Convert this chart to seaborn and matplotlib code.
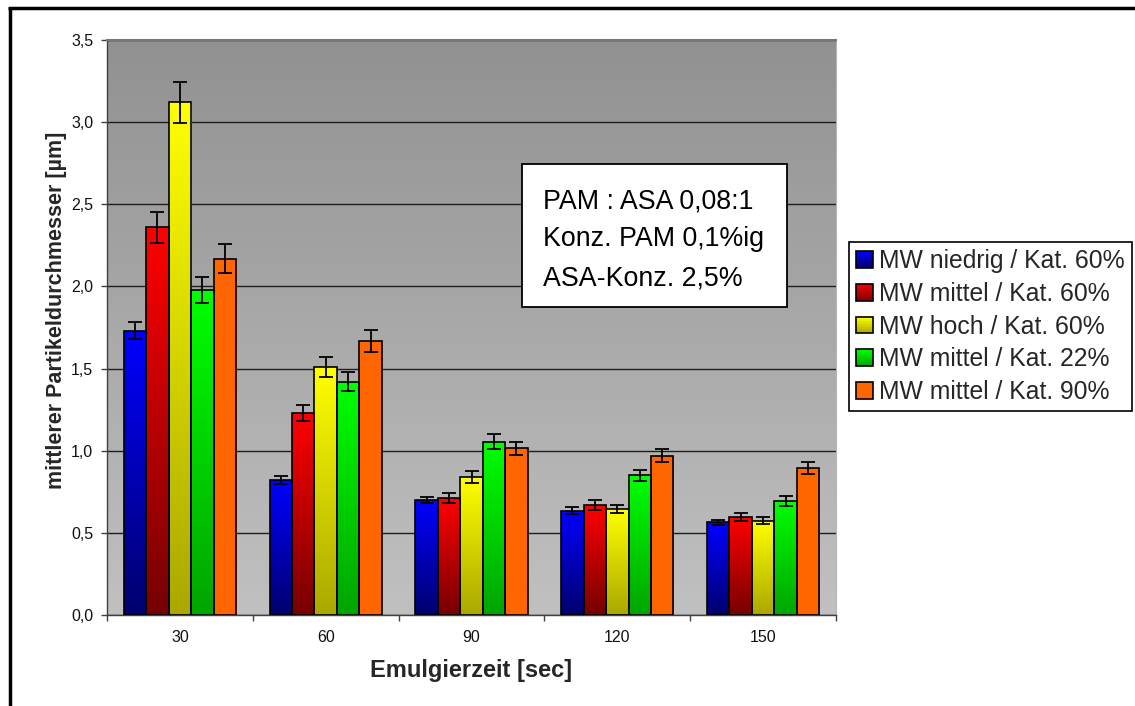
import numpy as np
import pandas as pd
import seaborn as sns
import matplotlib.pyplot as plt
from matplotlib.lines import Line2D
from matplotlib.patches import Rectangle
from matplotlib.legend_handler import HandlerBase
from matplotlib.ticker import FuncFormatter, FixedLocator

# data
times = ["30", "60", "90", "120", "150"]
series = ["MW niedrig / Kat. 60%", "MW mittel / Kat. 60%", "MW hoch / Kat. 60%",
          "MW mittel / Kat. 22%", "MW mittel / Kat. 90%"]
niedrig_60 = [1.73, 0.82, 0.70, 0.635, 0.565]
mittel_60 = [2.36, 1.23, 0.71, 0.67, 0.595]
hoch_60 = [3.12, 1.51, 0.84, 0.645, 0.575]
mittel_22 = [1.98, 1.42, 1.055, 0.85, 0.695]
mittel_90 = [2.17, 1.67, 1.015, 0.97, 0.893]
err_niedrig_60 = [0.053, 0.025, 0.019, 0.021, 0.016]
err_mittel_60 = [0.096, 0.050, 0.030, 0.028, 0.024]
err_hoch_60 = [0.126, 0.062, 0.036, 0.025, 0.024]
err_mittel_22 = [0.080, 0.058, 0.045, 0.034, 0.030]
err_mittel_90 = [0.086, 0.067, 0.040, 0.040, 0.036]

values = [niedrig_60, mittel_60, hoch_60, mittel_22, mittel_90]
errors = [err_niedrig_60, err_mittel_60, err_hoch_60, err_mittel_22, err_mittel_90]

# gradient colours: top, bottom
top_colors = [(0, 0, 255), (255, 0, 0), (255, 255, 0), (0, 255, 0), (255, 102, 0)]
bottom_colors = [(0, 0, 110), (118, 0, 0), (170, 168, 0), (0, 165, 0), (255, 102, 0)]
top_colors = [tuple(c / 255 for c in col) for col in top_colors]
bottom_colors = [tuple(c / 255 for c in col) for col in bottom_colors]

df = pd.DataFrame({
    "time": [t for s in series for t in times],
    "series": [s for s in series for t in times],
    "value": [v for vals in values for v in vals],
})

sns.set_style("white")
plt.rcParams["font.family"] = ["Liberation Sans", "DejaVu Sans"]

W, H = 1135, 706
fig = plt.figure(figsize=(W / 100, H / 100), dpi=100)
ax = fig.add_axes([107 / W, 1 - 615 / H, (836 - 107) / W, (615 - 40) / H])

# background gradient of the plot area
bg = np.linspace(0.57, 0.755, 256)[:, None]
ax.imshow(np.dstack([bg, bg, bg]), extent=(0, 1, 0, 1), transform=ax.transAxes,
          aspect="auto", origin="upper", zorder=0, interpolation="bilinear")

sns.barplot(data=df, x="time", y="value", hue="series", order=times, hue_order=series,
            palette=top_colors, saturation=1, width=0.77, errorbar=None,
            edgecolor="black", linewidth=1.2, legend=False, ax=ax)


def gradient(top, bottom, n=128):
    t = np.linspace(0, 1, n)[:, None]
    arr = np.array(top)[None, :] * (1 - t) + np.array(bottom)[None, :] * t
    return arr[:, None, :]


bar_containers = list(ax.containers)
for i, cont in enumerate(bar_containers):
    img = gradient(top_colors[i], bottom_colors[i])
    xs, ys = [], []
    for bar in cont:
        x0, w, h = bar.get_x(), bar.get_width(), bar.get_height()
        im = ax.imshow(img, extent=(x0, x0 + w, 0, h), aspect="auto", origin="upper",
                       zorder=2, interpolation="bilinear")
        im.set_clip_path(bar)
        bar.set_facecolor("none")
        bar.set_zorder(3)
        xs.append(x0 + w / 2)
        ys.append(h)
    ax.errorbar(xs, ys, yerr=errors[i], fmt="none", ecolor="black", elinewidth=1.3,
                capsize=5, capthick=1.3, zorder=4)

ax.set_xlim(-0.5, 4.5)
ax.set_ylim(0, 3.5)
ax.set_yticks(np.arange(0, 3.51, 0.5))
ax.yaxis.set_major_formatter(FuncFormatter(lambda v, p: f"{v:.1f}".replace(".", ",")))
ax.grid(axis="y", color="#1e1e1e", linewidth=1.0)
ax.set_axisbelow(True)
ax.images[0].set_zorder(0)

ax.xaxis.set_minor_locator(FixedLocator(np.arange(-0.5, 4.6, 1)))
ax.tick_params(axis="x", which="major", length=0, pad=11, labelsize=11.5, colors="#111111")
ax.tick_params(axis="x", which="minor", bottom=True, length=4, width=1, color="#404040")
ax.tick_params(axis="y", left=True, length=4, width=1, color="#404040", pad=6,
               labelsize=11.5, labelcolor="#111111")

for side in ["left", "bottom"]:
    ax.spines[side].set_color("#404040")
    ax.spines[side].set_linewidth(1.0)
ax.spines["top"].set_color("#777777")
ax.spines["top"].set_linewidth(1.5)
ax.spines["right"].set_color("#b5b5b5")

ax.set_xlabel("Emulgierzeit [sec]", fontsize=17, fontweight="bold", va="top")
ax.xaxis.set_label_coords(0.5, (615 - 659) / 575)
ax.set_ylabel("mittlerer Partikeldurchmesser [µm]", fontsize=15.5, fontweight="bold",
              va="center")
ax.yaxis.set_label_coords((57 - 107) / 729, (615 - 310) / 575)

# annotation box
fig.patches.append(Rectangle((522 / W, 1 - 307 / H), (787 - 522) / W, (307 - 164) / H,
                             transform=fig.transFigure, facecolor="white",
                             edgecolor="black", linewidth=1.3, zorder=5))
for k, line in enumerate(["PAM : ASA 0,08:1", "Konz. PAM 0,1%ig", "ASA-Konz. 2,5%"]):
    fig.text(543 / W, 1 - (208 + 38.5 * k) / H, line, fontsize=19.3, ha="left",
             va="baseline", color="black", zorder=6)


class Swatch:
    def __init__(self, top, bottom):
        self.top = top
        self.bottom = bottom


class GradientHandler(HandlerBase):
    def create_artists(self, legend, orig_handle, xdescent, ydescent, width, height,
                       fontsize, trans):
        n = 8
        side = min(width, height * 1.2)
        x0 = -xdescent
        y0 = -ydescent + (height - side) / 2
        arts = []
        for j in range(n):
            t = (j + 0.5) / n
            col = tuple(np.array(orig_handle.top) * (1 - t) + np.array(orig_handle.bottom) * t)
            arts.append(Rectangle((x0, y0 + side * (1 - (j + 1) / n)), side, side / n,
                                  facecolor=col, edgecolor="none", transform=trans))
        arts.append(Rectangle((x0, y0), side, side, facecolor="none", edgecolor="black",
                              linewidth=1.2, transform=trans))
        return arts


handles = [Swatch(t, b) for t, b in zip(top_colors, bottom_colors)]
leg = fig.legend(handles, series, handler_map={Swatch: GradientHandler()},
                 loc="upper left", bbox_to_anchor=(849 / W, 1 - 242 / H),
                 bbox_transform=fig.transFigure, borderaxespad=0, fontsize=17.8,
                 frameon=True, fancybox=False, edgecolor="black", framealpha=1,
                 handlelength=0.68, handleheight=0.68, handletextpad=0.25,
                 labelspacing=0.35, borderpad=0.3)
leg.get_frame().set_linewidth(1.2)

# outer frame (top and left edges)
fig.add_artist(Line2D([9.5 / W, 9.5 / W], [0, 1 - 7.5 / H], transform=fig.transFigure,
                      color="black", linewidth=2.5, solid_capstyle="butt"))
fig.add_artist(Line2D([8 / W, 1], [1 - 7.5 / H, 1 - 7.5 / H], transform=fig.transFigure,
                      color="black", linewidth=2.5, solid_capstyle="butt"))

fig.savefig("out.png", dpi=100)
